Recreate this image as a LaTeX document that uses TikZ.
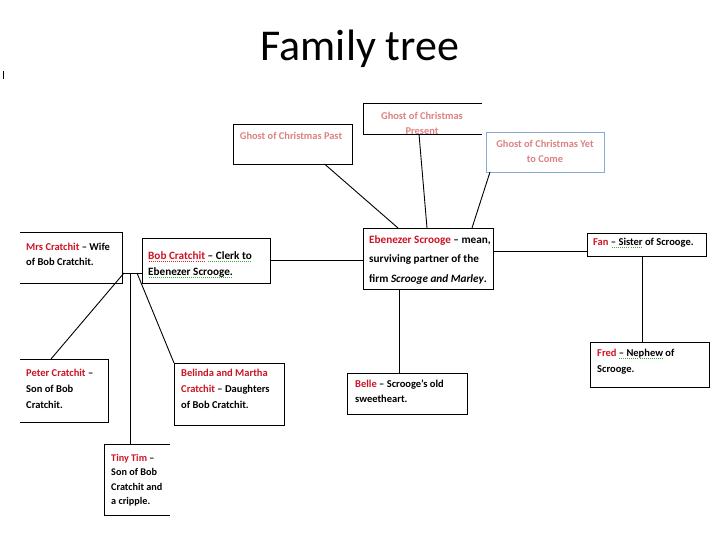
\documentclass[tikz,border=0pt]{standalone}
\usepackage{fontspec}
\setmainfont{Carlito}
\definecolor{namered}{RGB}{205,20,35}
\definecolor{ghostpink}{RGB}{220,130,130}
\definecolor{ghostblue}{RGB}{140,170,215}
\definecolor{spellgreen}{RGB}{60,170,60}
\definecolor{spellred}{RGB}{220,40,40}
\newcommand{\nm}[1]{\textcolor{namered}{#1}}
\newsavebox{\sqbox}
\newcommand{\sqline}[2]{\sbox{\sqbox}{#2}\rlap{\color{#1}\raisebox{-2.6pt}{\hbox to \wd\sqbox{\xleaders\hbox to 2pt{\hss\vrule width 1pt height 0.7pt\hss}\hfill}}}\usebox{\sqbox}}
\newcommand{\gsq}[1]{\sqline{spellgreen}{#1}}
\newcommand{\rsq}[1]{\sqline{spellred}{#1}}
\begin{document}
\begin{tikzpicture}[x=1pt, y=-1pt,
  box/.style={draw, line width=0.9pt, inner sep=0pt, outer sep=0pt, anchor=north west},
  txt/.style={inner sep=0pt, anchor=north west, align=left, font=\fontsize{10.5}{16}\selectfont\bfseries},
  ghost/.style={inner sep=0pt, align=center, text=ghostpink, font=\fontsize{10.4}{15}\selectfont\bfseries},
  link/.style={line width=0.9pt}]
  \fill[white] (0,0) rectangle (720,540);
  \node[anchor=base, font=\fontsize{44}{50}\selectfont] (title) at (360,61) {Family tree};
  \draw[link] (3,71) -- (3,79);
  % Ghosts
  \node[box, minimum width=119pt, minimum height=40pt] (past) at (233,124) {};
  \node[ghost] (pasttxt) at (291,136) {Ghost of Christmas Past};
  \node[box, draw=none, minimum width=119pt, minimum height=31pt] (present) at (363,103) {};
  \draw[link] (present.north east) -- (present.north west) -- (present.south west) -- (present.south east);
  \node[ghost] (presenttxt) at (422,123) {Ghost of Christmas\\Present};
  \node[box, draw=ghostblue, minimum width=118pt, minimum height=40pt] (yet) at (486,132) {};
  \node[ghost] (yettxt) at (545,151) {Ghost of Christmas Yet\\to Come};
  % Scrooge and his side
  \node[box, minimum width=130pt, minimum height=61pt] (scrooge) at (363,228) {};
  \node[txt, font=\fontsize{11.2}{19.5}\selectfont\bfseries] (scroogetxt) at (369,235)
    {\nm{Ebenezer Scrooge} -- mean,\\surviving partner of the\\firm \textit{Scrooge and Marley}.};
  \node[box, minimum width=119pt, minimum height=23pt] (fan) at (587,233) {};
  \node[txt] (fantxt) at (593,238) {\nm{Fan} \gsq{-- Sister} of Scrooge.};
  \node[box, minimum width=119pt, minimum height=45pt] (fred) at (590,342) {};
  \node[txt] (fredtxt) at (597,349) {\nm{Fred} \gsq{-- Nephew} of\\Scrooge.};
  \node[box, minimum width=120pt, minimum height=41pt] (belle) at (347,373) {};
  \node[txt, font=\fontsize{10.5}{15}\selectfont\bfseries] (belletxt) at (355,380)
    {\nm{Belle} -- Scrooge’s old\\sweetheart.};
  % Cratchit family
  \node[box, minimum width=128pt, minimum height=45pt] (bob) at (142,238) {};
  \node[txt, font=\fontsize{11.2}{16.5}\selectfont\bfseries] (bobtxt) at (148,251)
    {\rsq{\nm{Bob Cratchit}} \gsq{-- Clerk to}\\\gsq{Ebenezer Scrooge.}};
  \node[box, draw=none, minimum width=102pt, minimum height=51pt] (mrs) at (20,232) {};
  \draw[link] (mrs.north west) -- (mrs.north east) -- (mrs.south east) -- (mrs.south west);
  \node[txt, font=\fontsize{10.5}{15}\selectfont\bfseries] (mrstxt) at (26,243)
    {\nm{Mrs Cratchit} -- Wife\\of Bob Cratchit.};
  \node[box, draw=none, minimum width=88pt, minimum height=63pt] (peter) at (20,359) {};
  \draw[link] (peter.north west) -- (peter.north east) -- (peter.south east) -- (peter.south west);
  \node[txt] (petertxt) at (26,369) {\nm{Peter Cratchit} --\\Son of Bob\\Cratchit.};
  \node[box, minimum width=110pt, minimum height=62pt] (belinda) at (174,363) {};
  \node[txt] (belindatxt) at (181,369) {\nm{Belinda and Martha}\\\nm{Cratchit} -- Daughters\\of Bob Cratchit.};
  \node[box, draw=none, minimum width=66pt, minimum height=71pt] (tim) at (104,444) {};
  \draw[link] (tim.north east) -- (tim.north west) -- (tim.south west) -- (tim.south east);
  \node[txt, font=\fontsize{10.2}{14.5}\selectfont\bfseries] (timtxt) at (111,454)
    {\nm{Tiny Tim} --\\Son of Bob\\Cratchit and\\a cripple.};
  % Connectors
  \draw[link] ([xshift=32pt]past.south) -- ([xshift=-30pt]scrooge.north);
  \draw[link] ([xshift=-3.5pt]present.south) -- ([xshift=-1pt]scrooge.north);
  \draw[link] ([xshift=-55pt]yet.south) -- ([xshift=44pt]scrooge.north);
  \draw[link] (bob.east) -- (bob.east -| scrooge.west);
  \draw[link] ([yshift=7.5pt]scrooge.east) -- ([yshift=7.5pt]scrooge.east -| fan.west);
  \draw[link] ([xshift=-4.5pt]fan.south) -- ([xshift=-4.5pt]fan.south |- fred.north);
  \draw[link] ([xshift=-29pt]scrooge.south) -- ([xshift=-29pt]scrooge.south |- belle.north);
  \coordinate (wed) at (130,273);
  \draw[link] (mrs.east |- wed) -- (bob.west |- wed);
  \draw[link] ([xshift=-6pt]wed) -- ([xshift=-13pt]peter.north);
  \draw[link] (wed) -- (wed |- tim.north);
  \draw[link] ([xshift=7pt]wed) -- (belinda.north west);
\end{tikzpicture}
\end{document}
